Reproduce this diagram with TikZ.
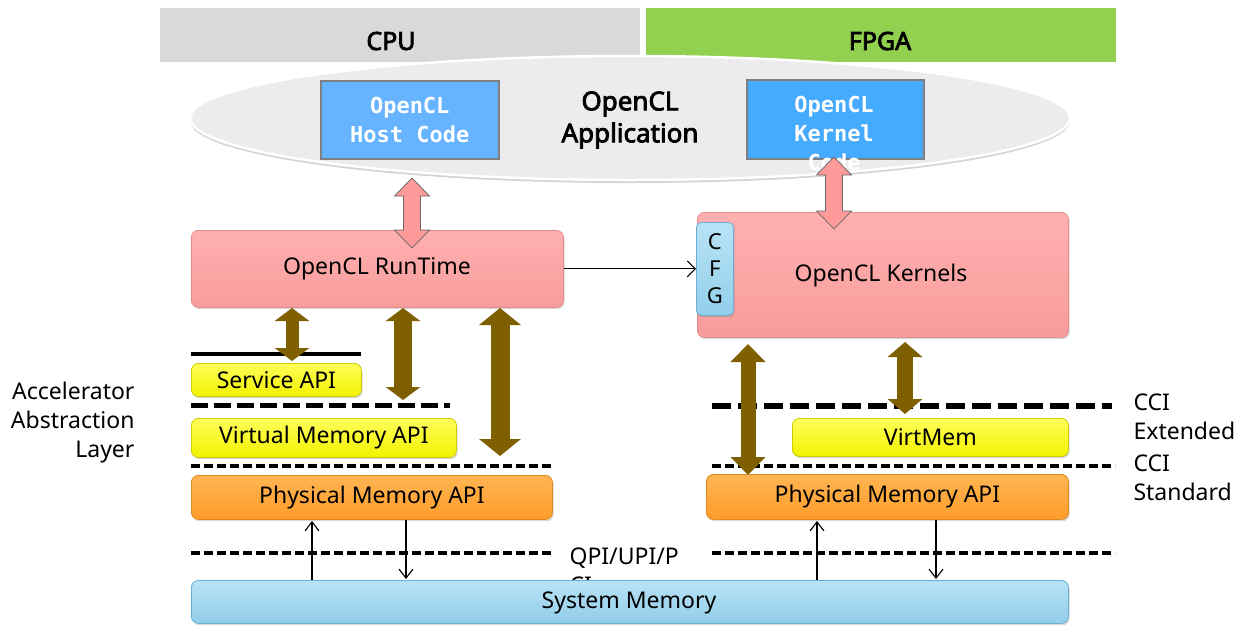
\documentclass[tikz,border=0pt]{standalone}
\usepackage{fontspec}
\setmainfont{Noto Sans}
\newfontfamily\headfont{Noto Sans}[FakeBold=3]
\newfontfamily\codefont{DejaVu Sans Mono}
\usetikzlibrary{arrows.meta,shadows,shapes.geometric}

\definecolor{cpugray}{HTML}{D9D9D9}
\definecolor{fpgagreen}{HTML}{92D050}
\definecolor{appgray}{HTML}{ECECEE}
\definecolor{hostblue}{HTML}{66B3FF}
\definecolor{kernelblue}{HTML}{45ABFF}
\definecolor{codeborder}{HTML}{7F7F7F}
\definecolor{pinktop}{HTML}{FFB0B0}
\definecolor{pinkbot}{HTML}{F89C9C}
\definecolor{pinkdraw}{HTML}{E48C8C}
\definecolor{arrowpink}{HTML}{FF9A9A}
\definecolor{cfgtop}{HTML}{B8E3F6}
\definecolor{cfgbot}{HTML}{92CFEA}
\definecolor{cfgdraw}{HTML}{6AAFD3}
\definecolor{arrowbrown}{HTML}{7F6000}
\definecolor{yeltop}{HTML}{FFFF5A}
\definecolor{yelbot}{HTML}{F2F200}
\definecolor{yeldraw}{HTML}{CCCC00}
\definecolor{orgtop}{HTML}{FFB552}
\definecolor{orgbot}{HTML}{FF9C2A}
\definecolor{orgdraw}{HTML}{DD8A22}
\definecolor{memtop}{HTML}{B8E3F6}
\definecolor{membot}{HTML}{92CDEA}
\definecolor{memdraw}{HTML}{6AAFD3}

\tikzset{
  bodyfont/.style={font=\fontsize{23}{29}\selectfont},
  layerbox/.style={anchor=north west, rounded corners=7pt, inner sep=0pt,
    line width=0.8pt, bodyfont,
    drop shadow={opacity=0.3, shadow xshift=1.2pt, shadow yshift=-1.8pt}},
  pinkbox/.style={layerbox, top color=pinktop, bottom color=pinkbot, draw=pinkdraw},
  yellowbox/.style={layerbox, top color=yeltop, bottom color=yelbot, draw=yeldraw},
  orangebox/.style={layerbox, top color=orgtop, bottom color=orgbot, draw=orgdraw},
  membox/.style={layerbox, top color=memtop, bottom color=membot, draw=memdraw},
  codebox/.style={anchor=north west, inner sep=0pt, draw=codeborder, line width=1.5pt},
  codetext/.style={text=white, align=center,
    font=\codefont\bfseries\fontsize{22}{29}\selectfont},
  headtxt/.style={font=\headfont\fontsize{25}{30}\selectfont},
  brownarr/.style n args={3}{draw=arrowbrown, line width=#1,
    arrows={Triangle[width=#2,length=#3,fill=arrowbrown]-Triangle[width=#2,length=#3,fill=arrowbrown]}},
  thickdash/.style={line width=5pt, dash pattern=on 17pt off 6pt},
  thindash/.style={line width=3.2pt, dash pattern=on 9pt off 4pt},
  thinarrow/.style={line width=1.1pt, -{Straight Barb[length=9pt,width=14pt]}},
  sidetext/.style={bodyfont}
}

% outlined double-headed block arrow: x, top tip, bottom tip
\newcommand\pinkdbl[3]{%
  \filldraw[fill=arrowpink, draw=black!60, line width=0.7pt]
    ({#1-8.5},{#2+18}) -- ({#1-17.5},{#2+18}) -- (#1,#2) -- ({#1+17.5},{#2+18})
    -- ({#1+8.5},{#2+18}) -- ({#1+8.5},{#3-18}) -- ({#1+17.5},{#3-18}) -- (#1,#3)
    -- ({#1-17.5},{#3-18}) -- ({#1-8.5},{#3-18}) -- cycle;}

\begin{document}
\begin{tikzpicture}[x=1pt,y=-1pt]
\useasboundingbox (0,0) rectangle (1238,625);

% column headers
\node[fill=cpugray, anchor=north west, inner sep=0pt,
      minimum width=480pt, minimum height=54pt] (cpubar) at (160,8) {};
\node[fill=fpgagreen, anchor=north west, inner sep=0pt,
      minimum width=470pt, minimum height=54pt] (fpgabar) at (646,8) {};
\node[headtxt] (cputxt) at (391,41) {CPU};
\node[headtxt] (fpgatxt) at (880,41) {FPGA};

% application layer
\node[ellipse, minimum width=880pt, minimum height=124pt, fill=appgray,
      draw=white, line width=2.5pt,
      drop shadow={opacity=0.35, shadow xshift=0pt, shadow yshift=-3pt}] (app) at (630,118) {};
\node[align=center, font=\headfont\fontsize{26}{32}\selectfont] (apptxt) at (630,120) {OpenCL\\Application};

\node[codebox, fill=hostblue, minimum width=178pt, minimum height=78pt] (host) at (320,80) {};
\node[codetext] (hosttxt) at (host.center) {OpenCL\\Host Code};
\node[codebox, fill=kernelblue, minimum width=177pt, minimum height=79pt] (kcode) at (746,79) {};
\node[codetext] (kcodetxt) at (834,133) {OpenCL\\Kernel\\Code};

% runtime and kernels
\node[pinkbox, minimum width=372pt, minimum height=77pt] (runtime) at (191,230) {};
\node[bodyfont] (runtimetxt) at (377,269) {OpenCL RunTime};
\node[pinkbox, minimum width=371pt, minimum height=125pt] (kernels) at (697,212) {};
\node[bodyfont] (kernelstxt) at (881,276) {OpenCL Kernels};
\node[layerbox, top color=cfgtop, bottom color=cfgbot, draw=cfgdraw, rounded corners=5pt,
      minimum width=37pt, minimum height=93pt, align=center,
      font=\fontsize{22}{27}\selectfont] (cfg) at (696,222) {C\\F\\G};

\draw[line width=1.1pt, -{Straight Barb[length=8pt,width=16pt]}] (runtime.east) -- (cfg.west);

\pinkdbl{412}{178}{248}
\pinkdbl{834}{157}{229}

% CPU side layers
\draw[line width=4pt] (191,354) coordinate (svctopL) -- (361,354) coordinate (svctopR);
\node[yellowbox, minimum width=170pt, minimum height=33pt] (svc) at (191,363) {Service API};
\draw[thickdash] (191,405) coordinate (vmtopL) -- (450,405) coordinate (vmtopR);
\node[yellowbox, minimum width=265pt, minimum height=39pt] (vmem) at (191,418) {Virtual Memory API};
\draw[thindash] (191,466) coordinate (pmtopL) -- (552,466) coordinate (pmtopR);
\node[orangebox, minimum width=361pt, minimum height=44pt] (pmemL) at (191,475) {Physical Memory API};

% FPGA side layers
\draw[line width=5.5pt, dash pattern=on 19pt off 7pt] (712,406) coordinate (cciextL) -- (1112,406) coordinate (cciextR);
\node[yellowbox, minimum width=276pt, minimum height=38pt] (virtmem) at (792,418) {VirtMem};
\draw[thindash] (712,466) coordinate (ccistdL) -- (1115,466) coordinate (ccistdR);
\node[orangebox, minimum width=362pt, minimum height=45pt] (pmemR) at (706,474) {Physical Memory API};

% interconnect
\draw[thindash] (191,553) coordinate (qpiL1) -- (551,553) coordinate (qpiL2);
\draw[thindash] (712,553) coordinate (qpiR1) -- (1115,553) coordinate (qpiR2);
\node[bodyfont, anchor=west, align=left] (qpitxt) at (566,571) {QPI/UPI/P\\CIe};

% system memory
\node[membox, minimum width=877pt, minimum height=43pt] (sysmem) at (191,580) {};
\node[bodyfont] (sysmemtxt) at (629,603) {System Memory};

% memory traffic
\coordinate (upL0) at (312,580);   \coordinate (upL1) at (312,521);
\coordinate (dnL0) at (406,520);   \coordinate (dnL1) at (406,579);
\coordinate (upR0) at (817,580);   \coordinate (upR1) at (817,521);
\coordinate (dnR0) at (936,520);   \coordinate (dnR1) at (936,579);
\draw[thinarrow] (upL0) -- (upL1);
\draw[thinarrow] (dnL0) -- (dnL1);
\draw[thinarrow] (upR0) -- (upR1);
\draw[thinarrow] (dnR0) -- (dnR1);

% API access paths
\coordinate (b1t) at (292,308); \coordinate (b1b) at (292,361);
\coordinate (b2t) at (403,308); \coordinate (b2b) at (403,400);
\coordinate (b3t) at (500,308); \coordinate (b3b) at (500,456);
\coordinate (b4t) at (748,344); \coordinate (b4b) at (748,475);
\coordinate (b5t) at (905,342); \coordinate (b5b) at (905,414);
\draw[brownarr={13pt}{34pt}{13pt}] (b1t) -- (b1b);
\draw[brownarr={18pt}{34pt}{13pt}] (b2t) -- (b2b);
\draw[brownarr={19pt}{41pt}{17pt}] (b3t) -- (b3b);
\draw[brownarr={15pt}{34pt}{18pt}] (b4t) -- (b4b);
\draw[brownarr={16pt}{34pt}{15pt}] (b5t) -- (b5b);

% side labels
\node[sidetext, anchor=east, align=right] (aal) at (138,423) {Accelerator\\Abstraction\\Layer};
\node[sidetext, anchor=west, align=left] (cciext) at (1130,416.5) {CCI\\Extended};
\node[sidetext, anchor=west, align=left] (ccistd) at (1130,477.5) {CCI\\Standard};
\end{tikzpicture}
\end{document}
